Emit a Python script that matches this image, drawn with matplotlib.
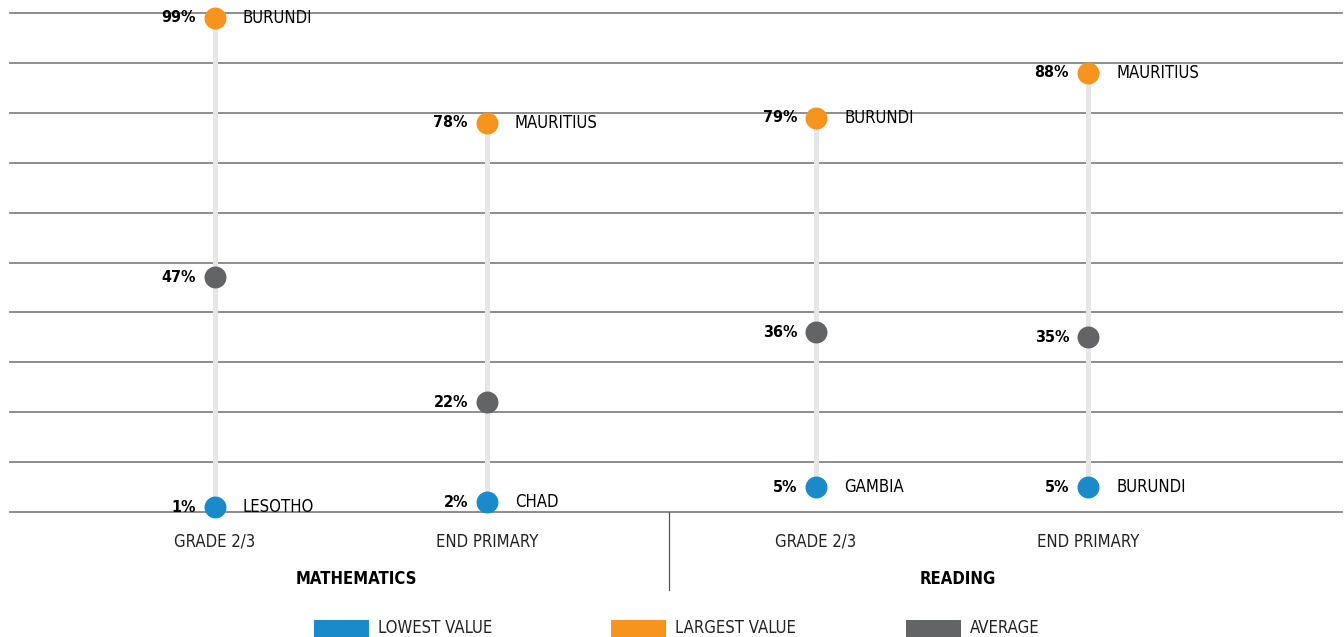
import matplotlib.pyplot as plt
from matplotlib.patches import Rectangle

plt.rcParams['font.family'] = ['DejaVu Sans']
plt.rcParams['font.stretch'] = 'condensed'

# datos
subjects = ["MATHEMATICS", "READING"]
levels = ["GRADE 2/3", "END PRIMARY", "GRADE 2/3", "END PRIMARY"]
lowest = [1, 2, 5, 5]
lowest_country = ["LESOTHO", "CHAD", "GAMBIA", "BURUNDI"]
largest = [99, 78, 79, 88]
largest_country = ["BURUNDI", "MAURITIUS", "BURUNDI", "MAURITIUS"]
average = [47, 22, 36, 35]

c_low = '#1a8acb'
c_high = '#f7941d'
c_avg = '#636466'
c_stem = '#e6e6e8'

W, H = 1344, 637
fig = plt.figure(figsize=(W / 100, H / 100), dpi=100)
ax = fig.add_axes([10 / W, 1 - 512 / H, 1332 / W, 499 / H])

# posiciones x: dos grupos, con hueco entre ellos
gap = 1.21
xs = [0, 1, 1 + gap, 2 + gap]
ax.set_xlim(-205 / 272, (1332 - 205) / 272)
ax.set_ylim(0, 100)

for y in range(0, 101, 10):
    ax.axhline(y, color='#858585', lw=1.3, zorder=1, clip_on=False)

px = 1 / 272  # un pixel en unidades x
ms = 250
for i, x in enumerate(xs):
    ax.plot([x, x], [lowest[i], largest[i]], color=c_stem, lw=3.6, zorder=2, solid_capstyle='butt')
    ax.scatter([x], [lowest[i]], s=ms, color=c_low, zorder=3, linewidths=0, clip_on=False)
    ax.scatter([x], [largest[i]], s=ms, color=c_high, zorder=3, linewidths=0, clip_on=False)
    ax.scatter([x], [average[i]], s=ms, color=c_avg, zorder=3, linewidths=0)
    for v in (lowest[i], largest[i], average[i]):
        ax.text(x - 19 * px, v, f"{v}%", ha='right', va='center', fontsize=11.5,
                fontweight='bold', color='black')
    ax.text(x + 28 * px, lowest[i], lowest_country[i], ha='left', va='center', fontsize=12)
    ax.text(x + 28 * px, largest[i], largest_country[i], ha='left', va='center', fontsize=12)

ax.axis('off')

# etiquetas de categorias
for x, lab in zip(xs, levels):
    ax.text(x, -6, lab, ha='center', va='center', fontsize=12, color='#222222')
ax.text(0.52, -13.5, subjects[0], ha='center', va='center', fontsize=12, fontweight='bold')
ax.text(1.52 + gap, -13.5, subjects[1], ha='center', va='center', fontsize=12, fontweight='bold')
ax.plot([1.669, 1.669], [0, -15.7], color='#555555', lw=0.9, clip_on=False)

# leyenda
legend_items = [("LOWEST VALUE", c_low, 314), ("LARGEST VALUE", c_high, 611), ("AVERAGE", c_avg, 906)]
for lab, col, x0 in legend_items:
    fig.add_artist(Rectangle((x0 / W, 0), 55 / W, 17 / H, transform=fig.transFigure,
                             color=col, lw=0))
    fig.text((x0 + 64) / W, 1 - 628 / H, lab, ha='left', va='center', fontsize=12, color='#222222')

fig.savefig('out.png', dpi=100)
